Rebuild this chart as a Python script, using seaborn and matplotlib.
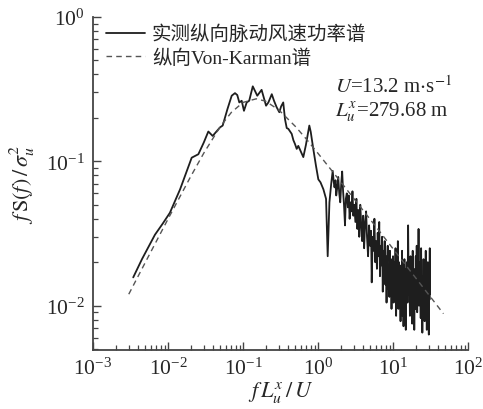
import matplotlib
matplotlib.use("Agg")
import matplotlib.pyplot as plt
import seaborn as sns
import numpy as np
import pandas as pd

freq_meas = [0.00344, 0.0045, 0.0067, 0.0085, 0.0106, 0.0145, 0.0207, 0.0254, 0.030, 0.0345,
             0.0394, 0.0494, 0.0536, 0.062, 0.0707, 0.0782, 0.0839, 0.0893, 0.0961, 0.103,
             0.112, 0.121, 0.135, 0.1445, 0.155, 0.177, 0.203, 0.218, 0.242, 0.259,
             0.281, 0.305, 0.322, 0.344, 0.363, 0.383, 0.402, 0.446, 0.47, 0.493,
             0.52, 0.546, 0.6, 0.637, 0.69, 0.766, 0.80, 0.865, 0.94, 1.01,
             1.08, 1.18, 1.28, 1.346, 1.42, 1.5, 1.57, 1.62, 1.66, 1.71,
             1.75, 1.8, 1.86, 1.92, 1.98, 2.04, 2.1, 2.16, 2.22, 2.29,
             2.35, 2.42, 2.5, 2.57, 2.64, 2.72, 2.8, 2.88, 2.96, 3.05,
             3.15, 3.25, 3.35, 3.45, 3.55, 3.66, 3.77, 3.88, 4.0, 4.12,
             4.25, 4.38, 4.5, 4.65, 4.8, 4.95, 5.1, 5.2, 5.35, 5.5,
             5.65, 5.8, 5.95, 6.1, 6.25, 6.4, 6.55, 6.7, 6.85, 7.0,
             7.15, 7.3, 7.45, 7.6, 7.75, 7.9, 8.05, 8.2, 8.35, 8.5,
             8.65, 8.8, 8.95, 9.1, 9.25, 9.4, 9.55, 9.7, 9.85, 10.0,
             10.2, 10.4, 10.6, 10.8, 11.0, 11.2, 11.4, 11.6, 11.8, 12.0,
             12.2, 12.4, 12.6, 12.8, 13.0, 13.2, 13.4, 13.6, 13.8, 14.0,
             14.2, 14.4, 14.6, 14.8, 15.0, 15.3, 15.6, 15.9, 16.2, 16.5,
             16.8, 17.1, 17.4, 17.7, 18.0, 18.3, 18.6, 18.9, 19.2, 19.5,
             19.8, 20.1, 20.4, 20.7, 21.0, 21.3, 21.6, 21.9, 22.2, 22.5,
             22.8, 23.1, 23.4, 23.7, 24.0, 24.3, 24.6, 24.9, 25.2, 25.5,
             25.8, 26.1, 26.4, 26.7, 27.0, 27.3, 27.6, 27.9, 28.2, 28.5,
             28.8, 29.1, 29.4, 29.7, 30.0, 30.3, 30.6, 30.9, 31.0]
spec_meas = [0.0157, 0.021, 0.031, 0.037, 0.044, 0.064, 0.106, 0.112, 0.135, 0.161,
             0.150, 0.172, 0.177, 0.23, 0.285, 0.297, 0.288, 0.256, 0.263, 0.224,
             0.256, 0.263, 0.331, 0.308, 0.285, 0.313, 0.243, 0.256, 0.292, 0.263,
             0.237, 0.219, 0.24, 0.256, 0.196, 0.17, 0.168, 0.155, 0.14, 0.132,
             0.122, 0.128, 0.115, 0.107, 0.13, 0.177, 0.16, 0.122, 0.093, 0.075,
             0.0715, 0.064, 0.055, 0.022, 0.052, 0.07, 0.086, 0.072, 0.066, 0.074,
             0.058, 0.065, 0.078, 0.06, 0.052, 0.07, 0.085, 0.062, 0.05, 0.036,
             0.055, 0.06, 0.048, 0.058, 0.04, 0.052, 0.045, 0.062, 0.042, 0.05,
             0.038, 0.055, 0.034, 0.046, 0.03, 0.05, 0.036, 0.028, 0.042, 0.025,
             0.038, 0.045, 0.03, 0.022, 0.036, 0.026, 0.033, 0.0145, 0.03, 0.024,
             0.04, 0.02, 0.028, 0.018, 0.032, 0.022, 0.038, 0.016, 0.026, 0.019,
             0.03, 0.0125, 0.024, 0.017, 0.028, 0.014, 0.022, 0.0105, 0.02, 0.026,
             0.013, 0.019, 0.0115, 0.024, 0.015, 0.021, 0.0095, 0.018, 0.013, 0.022,
             0.0105, 0.02, 0.014, 0.025, 0.0085, 0.018, 0.012, 0.028, 0.0095, 0.02,
             0.011, 0.016, 0.0078, 0.019, 0.012, 0.024, 0.0085, 0.017, 0.0072, 0.015,
             0.021, 0.0095, 0.018, 0.0068, 0.014, 0.02, 0.0105, 0.036, 0.012, 0.019,
             0.0085, 0.022, 0.011, 0.016, 0.0075, 0.024, 0.012, 0.018, 0.0068, 0.015,
             0.0095, 0.022, 0.0115, 0.026, 0.009, 0.017, 0.012, 0.034, 0.01, 0.02,
             0.0135, 0.018, 0.0082, 0.025, 0.011, 0.016, 0.0065, 0.014, 0.0095, 0.021,
             0.012, 0.017, 0.0078, 0.019, 0.011, 0.024, 0.0095, 0.015, 0.0068, 0.016,
             0.012, 0.02, 0.0085, 0.014, 0.0063, 0.018, 0.011, 0.025, 0.012]

# Von Karman longitudinal spectrum
freq_vk = [0.003, 0.005, 0.01, 0.02, 0.03, 0.05, 0.07, 0.1, 0.15, 0.2,
           0.3, 0.5, 0.7, 1.0, 2.0, 5.0, 10.0, 20.0, 47.0]
spec_vk = [0.0120, 0.0200, 0.0398, 0.0782, 0.114, 0.1746, 0.2185, 0.256, 0.2712, 0.2612,
           0.2272, 0.1744, 0.1425, 0.1136, 0.0723, 0.0394, 0.0248, 0.0156, 0.0088]

label_meas = "实测纵向脉动风速功率谱"
label_vk = "纵向Von-Karman谱"
x_ticks = [1e-3, 1e-2, 1e-1, 1e0, 1e1, 1e2]
y_ticks = [1e-2, 1e-1, 1e0]

sns.set_style("ticks")
plt.rcParams["font.family"] = ["Liberation Serif", "Noto Sans CJK SC"]
plt.rcParams["mathtext.fontset"] = "stix"

df_meas = pd.DataFrame({"f": freq_meas, "S": spec_meas})
df_vk = pd.DataFrame({"f": freq_vk, "S": spec_vk})

fig = plt.figure(figsize=(4.83, 4.10), dpi=100)
ax = fig.add_axes([0.1925, 0.1446, 0.7765, 0.8114])

sns.lineplot(data=df_meas, x="f", y="S", ax=ax, color="#1e1e1e", lw=1.3,
             estimator=None, sort=False, label=label_meas)
sns.lineplot(data=df_vk, x="f", y="S", ax=ax, color="#555555", lw=1.0,
             estimator=None, sort=False, label=label_vk, dashes=False)
ax.lines[1].set_linestyle((0, (4, 3)))

ax.set_xscale("log")
ax.set_yscale("log")
ax.set_xlim(1e-3, 1e2)
ax.set_ylim(0.00495, 1.0)
ax.set_xticks(x_ticks)
ax.set_yticks(y_ticks)

for s in ["top", "right"]:
    ax.spines[s].set_visible(False)
for s in ["left", "bottom"]:
    ax.spines[s].set_color("#444444")
    ax.spines[s].set_linewidth(1.3)

ax.tick_params(which="major", direction="in", length=6, width=1.0, color="#444444",
               labelsize=15.5, pad=6)
ax.tick_params(which="minor", direction="in", length=3.5, width=0.9, color="#444444")

ax.set_xlabel(r"$f\,L_u^x\,/\,U$", fontsize=16, labelpad=0)
ax.set_ylabel(r"$f\,\mathrm{S}(f)\,/\,\sigma_u^2$", fontsize=16, labelpad=6)

leg = ax.legend(loc="upper left", bbox_to_anchor=(0.015, 1.0), frameon=False,
                fontsize=14, handlelength=2.0, handletextpad=0.35,
                borderaxespad=0.0, labelspacing=0.25)
leg.get_lines()[1].set_linestyle((0, (4, 3)))

ax.text(0.645, 0.793, r"$U$=13.2 m$\cdot$s$^{-1}$", transform=ax.transAxes,
        fontsize=15, va="center", ha="left")
ax.text(0.645, 0.718, r"$L_u^x$=279.68 m", transform=ax.transAxes,
        fontsize=15, va="center", ha="left")

fig.savefig("out.png", dpi=100)
